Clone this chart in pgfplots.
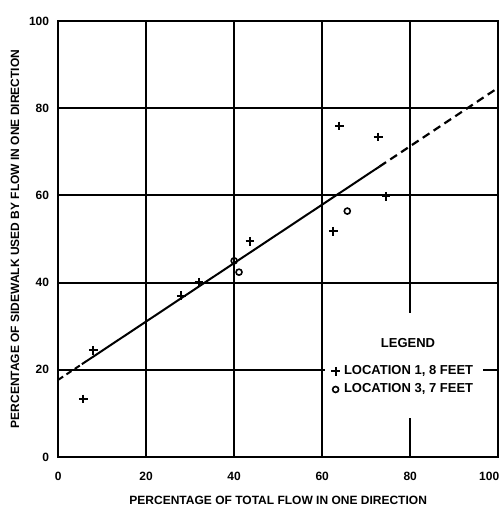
\documentclass[border=0pt]{standalone}
\usepackage{pgfplots}
\pgfplotsset{compat=1.18}
\usepackage{fontspec}
\setmainfont{Liberation Sans}
\begin{document}
\begin{tikzpicture}
\begin{axis}[
  scale only axis,
  width=220pt, height=218pt,
  xmin=0, xmax=100, ymin=0, ymax=100,
  xtick={0,20,40,60,80,100},
  xticklabels={0,20,40,60,80,\makebox[1pt][r]{100}},
  ytick={0,20,40,60,80,100},
  grid=major,
  major grid style={black, line width=0.9pt},
  axis line style={black, line width=1.1pt},
  major tick length=0pt,
  tick label style={font=\fontsize{6}{7}\selectfont\bfseries},
  /pgf/number format/assume math mode=true,
  xticklabel style={yshift=-4pt},
  yticklabel style={xshift=-1pt},
  xlabel={PERCENTAGE OF TOTAL FLOW IN ONE DIRECTION},
  ylabel={PERCENTAGE OF SIDEWALK USED BY FLOW IN ONE DIRECTION},
  label style={font=\fontsize{6}{7}\selectfont\bfseries},
  xlabel style={at={(axis cs:50,-9.9)}, anchor=center},
  ylabel style={at={(axis cs:-9.8,50)}, anchor=center, rotate=0},
  clip=false,
  legend style={draw=none, fill=none, at={(axis cs:61.5,22.5)}, anchor=north west,
    font=\fontsize{6.5}{7.5}\selectfont\bfseries, row sep=-1pt, inner sep=1pt},
  legend cell align=left,
]
\fill[white] (axis cs:60.7,9) rectangle (axis cs:96.6,33);
\addplot[only marks, mark=+, mark size=2.2pt, line width=1pt, black] coordinates {
  (5.7,13.3) (8,24.5) (28,37) (32,40.1) (43.6,49.5) (62.5,51.8) (63.9,75.9) (72.7,73.4) (74.5,59.8)
};
\addlegendentry{LOCATION 1, 8 FEET}
\addplot[only marks, mark=o, mark size=1.5pt, line width=0.8pt, black] coordinates {
  (40,45) (41.1,42.4) (65.7,56.4)
};
\addlegendentry{LOCATION 3, 7 FEET}
\addplot[black, line width=1pt, dash pattern=on 3pt off 2pt, forget plot] coordinates {(0,17.7) (5.4,21.3)};
\addplot[black, line width=1pt, forget plot] coordinates {(5.4,21.3) (73,66.6)};
\addplot[black, line width=1.1pt, forget plot, dash pattern=on 4pt off 2.5pt] coordinates {(73,66.6) (100,84.7)};
\node[font=\fontsize{6.5}{7.5}\selectfont\bfseries] at (axis cs:79.5,26.2) {LEGEND};
\coordinate (bl) at (axis cs:-13.2,-11.9);
\coordinate (tr) at (axis cs:100.45,104.8);
\end{axis}
\pgfresetboundingbox
\useasboundingbox (bl) rectangle (tr);
\end{tikzpicture}
\end{document}
